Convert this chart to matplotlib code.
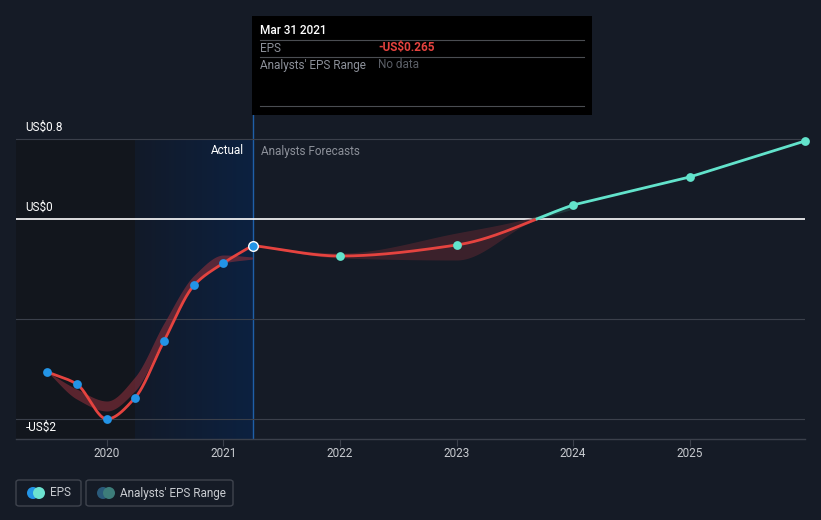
import numpy as np
import matplotlib
matplotlib.use("Agg")
import matplotlib.pyplot as plt
from matplotlib.patches import Rectangle, FancyBboxPatch, Ellipse

plt.rcParams["font.family"] = ["Roboto", "DejaVu Sans"]

# ---- data (decimal years, EPS in US$) ----
actual_x = [2019.49, 2019.74, 2020.0, 2020.24, 2020.49, 2020.75, 2021.0, 2021.25]
actual_eps = [-1.53, -1.65, -2.00, -1.79, -1.22, -0.66, -0.44, -0.265]

past_range_x = [2019.49, 2019.74, 2020.0, 2020.24, 2020.49, 2020.75, 2021.0, 2021.25]
past_range_low = [-1.53, -1.80, -1.92, -1.72, -1.18, -0.64, -0.44, -0.40]
past_range_high = [-1.53, -1.70, -1.82, -1.58, -1.04, -0.56, -0.36, -0.38]

fc_x = [2021.25, 2022.0, 2023.0, 2024.0, 2025.0, 2025.99]
fc_eps = [-0.265, -0.37, -0.26, 0.14, 0.42, 0.78]

fc_range_x = [2021.25, 2022.0, 2023.0, 2023.66, 2024.0]
fc_range_low = [-0.265, -0.39, -0.41, -0.02, 0.10]
fc_range_high = [-0.265, -0.34, -0.14, 0.02, 0.16]

years = [2020, 2021, 2022, 2023, 2024, 2025]

BG = "#151b26"
RED = "#e5433f"
TEAL = "#62e3cb"
BLUE = "#2394e6"
GRID = "#3b404b"

W, H = 821, 520


def smooth(xs, ys, n=300):
    # monotone cubic (Fritsch-Carlson) for drawing curves through the points
    xs = np.asarray(xs, float)
    ys = np.asarray(ys, float)
    h = np.diff(xs)
    d = np.diff(ys) / h
    m = np.zeros_like(ys)
    m[0], m[-1] = d[0], d[-1]
    for i in range(1, len(xs) - 1):
        if d[i - 1] * d[i] <= 0:
            m[i] = 0
        else:
            w1 = 2 * h[i] + h[i - 1]
            w2 = h[i] + 2 * h[i - 1]
            m[i] = (w1 + w2) / (w1 / d[i - 1] + w2 / d[i])
    xx = np.linspace(xs[0], xs[-1], n)
    k = np.clip(np.searchsorted(xs, xx) - 1, 0, len(xs) - 2)
    t = (xx - xs[k]) / h[k]
    h00 = 2 * t**3 - 3 * t**2 + 1
    h10 = t**3 - 2 * t**2 + t
    h01 = -2 * t**3 + 3 * t**2
    h11 = t**3 - t**2
    yy = h00 * ys[k] + h10 * h[k] * m[k] + h01 * ys[k + 1] + h11 * h[k] * m[k + 1]
    return xx, yy


def px(x, y):
    return x / W, 1 - y / H


fig = plt.figure(figsize=(8.21, 5.2), dpi=100, facecolor=BG)
ax = fig.add_axes([16 / W, (H - 439) / H, (805 - 16) / W, (439 - 115) / H])
ax.set_facecolor(BG)
ax.set_xlim(2019.22, 2025.99)
ax.set_ylim(-2.2, 1.04)

# shaded past regions
ax.axvspan(2019.22, 2020.24, ymin=0, ymax=(0.8 + 2.2) / 3.24, color="#12161d", lw=0, zorder=0)
grad = np.linspace(0, 1, 256).reshape(1, -1)
cmap = matplotlib.colors.LinearSegmentedColormap.from_list("g", ["#121a29", "#0c2140"])
ax.imshow(grad, extent=[2020.24, 2021.25, -2.2, 0.8], aspect="auto", cmap=cmap,
          interpolation="bilinear", zorder=0.5)
ax.plot([2021.25, 2021.25], [-2.2, 1.04], color="#1f5fa8", lw=1, zorder=1)

# grid lines
for g in [0.8, -1, -2]:
    ax.axhline(g, color=GRID, lw=0.8, zorder=1)
ax.axhline(0, color="white", lw=1.2, zorder=2)

# analyst range bands
bx, blo = smooth(past_range_x, past_range_low)
_, bhi = smooth(past_range_x, past_range_high)
ax.fill_between(bx, blo, bhi, color="#8a2f3b", alpha=0.6, lw=0, zorder=2)

fx, flo = smooth(fc_range_x, fc_range_low)
_, fhi = smooth(fc_range_x, fc_range_high)
ax.fill_between(fx, flo, fhi, where=(fhi + flo) / 2 <= 0.01, color="#6a2a33", alpha=0.45, lw=0, zorder=2)
ax.fill_between(fx, flo, fhi, where=(fhi + flo) / 2 >= -0.01, color="#2a5a55", alpha=0.45, lw=0, zorder=2)

# actual EPS line
ax_x, ax_y = smooth(actual_x, actual_eps)
ax.plot(ax_x, ax_y, color=RED, lw=2, zorder=3, solid_capstyle="round")

# forecast line: curved up to 2024, straight segments after; red below zero, teal above
sx, sy = smooth(fc_x[:4], fc_eps[:4], n=500)
cx = np.concatenate([sx, fc_x[4:]])
cy = np.concatenate([sy, fc_eps[4:]])
ax.plot(cx, np.where(cy <= 0, cy, np.nan), color=RED, lw=2, zorder=3)
ax.plot(cx, np.where(cy >= 0, cy, np.nan), color=TEAL, lw=2, zorder=3)

ax.scatter(actual_x[:-1], actual_eps[:-1], s=40, color=BLUE, zorder=4, lw=0)
ax.scatter(actual_x[-1:], actual_eps[-1:], s=48, color=BLUE, edgecolor="white", lw=1, zorder=5)
ax.scatter(fc_x[1:], fc_eps[1:], s=40, color=TEAL, zorder=4, lw=0, clip_on=False)

# axes styling
for s in ["top", "right", "left"]:
    ax.spines[s].set_visible(False)
ax.spines["bottom"].set_color(GRID)
ax.spines["bottom"].set_linewidth(1)
ax.set_yticks([])
ax.set_xticks(years)
ax.set_xticklabels([str(y) for y in years])
ax.tick_params(axis="x", colors=GRID, labelcolor="#c8cbd0", labelsize=8.5, length=5, pad=1)

# y labels
ax.text(2019.3, 0.92, "US$0.8", color="white", fontsize=8.5, va="center")
ax.text(2019.3, 0.12, "US$0", color="white", fontsize=8.5, va="center")
ax.text(2019.3, -2.08, "-US$2", color="white", fontsize=8.5, va="center")

ax.text(2021.18, 0.68, "Actual", color="white", fontsize=8.5, ha="right", va="center")
ax.text(2021.32, 0.68, "Analysts Forecasts", color="#8c9099", fontsize=8.5, ha="left", va="center")

# tooltip box
x0, y0 = px(252, 115)
x1, y1 = px(592, 16)
fig.add_artist(Rectangle((x0, y0), x1 - x0, y1 - y0, transform=fig.transFigure,
                         facecolor="black", edgecolor="none", zorder=10))
for yy in [40, 57, 106]:
    a, b = px(260, yy)
    c, _ = px(584, yy)
    fig.add_artist(plt.Line2D([a, c], [b, b], transform=fig.transFigure, color="#4a4d52", lw=0.8, zorder=11))
fig.text(*px(260, 31), "Mar 31 2021", color="white", fontsize=8.5, va="center", fontweight="medium", zorder=12)
fig.text(*px(260, 48), "EPS", color="#8c9099", fontsize=8.5, va="center", zorder=12)
fig.text(*px(378, 48), "-US$0.265", color="#e5433f", fontsize=8.5, va="center", fontweight="bold", zorder=12)
fig.text(*px(260, 65), "Analysts' EPS Range", color="#8c9099", fontsize=8.5, va="center", zorder=12)
fig.text(*px(378, 65), "No data", color="#5a5e66", fontsize=8.5, va="center", zorder=12)


# legend boxes
def legend_box(xa, xb, c1, c2, label):
    a, b = px(xa, 506)
    c, d = px(xb, 480)
    fig.add_artist(FancyBboxPatch((a, b), c - a, d - b, transform=fig.transFigure,
                                  boxstyle="round,pad=0,rounding_size=0.004",
                                  facecolor="none", edgecolor="#3f444e", lw=1))
    for cx_, col in [(xa + 17, c1), (xa + 23, c2)]:
        p, q = px(cx_, 493)
        fig.add_artist(Ellipse((p, q), 12 / W, 12 / H, transform=fig.transFigure,
                               facecolor=col, edgecolor="none"))
    fig.text(*px(xa + 34, 493), label, color="#c8cbd0", fontsize=8.5, va="center")


legend_box(16, 81, BLUE, "#6ce3d0", "EPS")
legend_box(86, 233, "#2a5a7a", "#3d7d7a", "Analysts' EPS Range")

fig.savefig("out.png", dpi=100, facecolor=BG)
